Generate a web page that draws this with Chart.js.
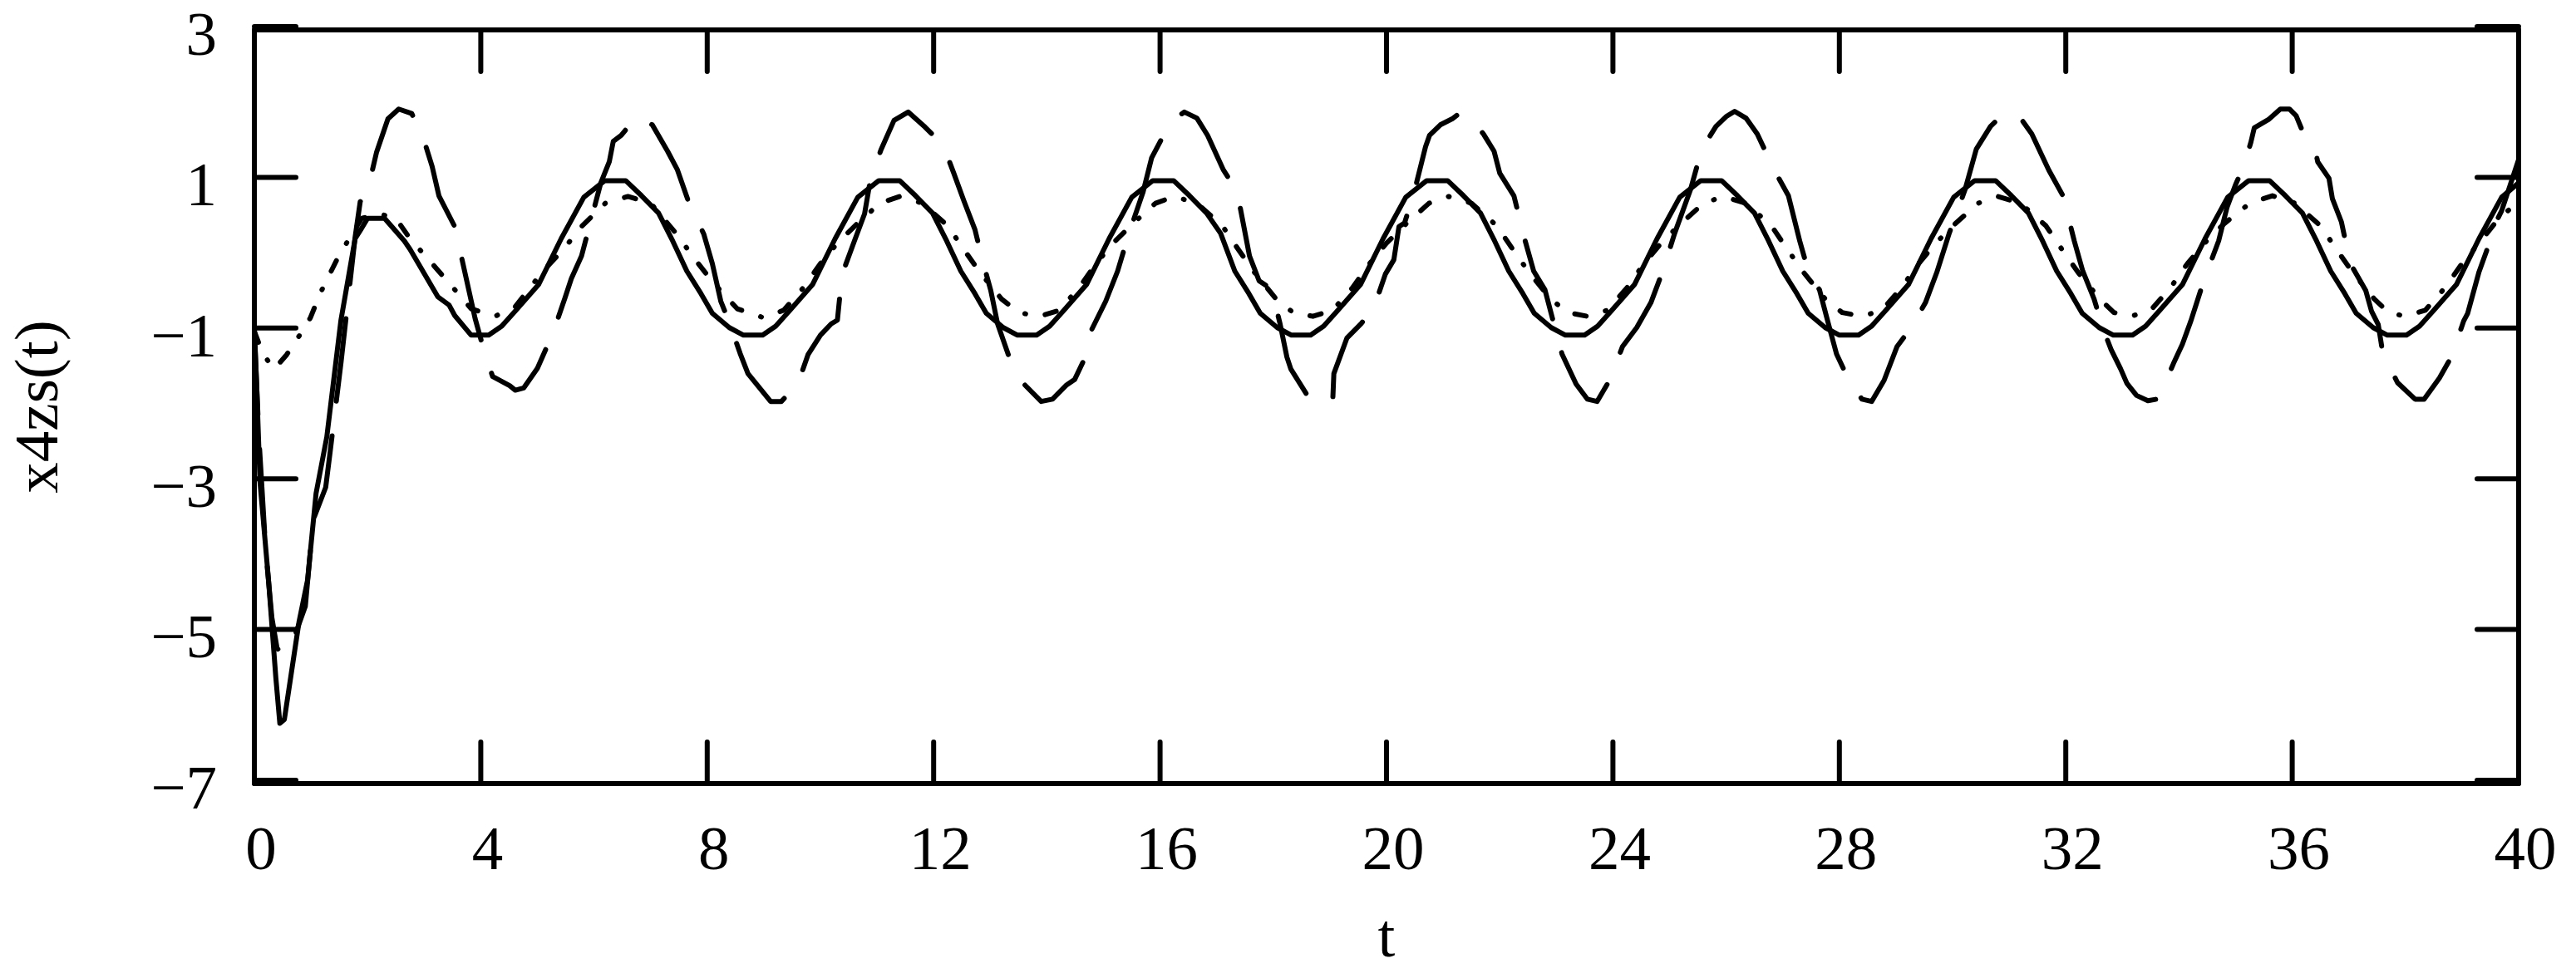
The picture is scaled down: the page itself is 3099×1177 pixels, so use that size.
<!DOCTYPE html>
<html>
<head>
<meta charset="utf-8">
<script src="https://cdn.jsdelivr.net/npm/chart.js@4.4.0/dist/chart.umd.min.js"></script>
<style>
  html, body { margin: 0; padding: 0; background: #fff; }
</style>
</head>
<body>
<canvas id="chart" width="3099" height="1177"></canvas>
<script>
// axis ticks
const xTicks = [0, 4, 8, 12, 16, 20, 24, 28, 32, 36, 40];
const yTicks = [3, 1, -1, -3, -5, -7];

// [t, x4zs(t)]
const solidLine = [
  [0,-0.95],[0.04,-1.7],[0.1,-3.0],[0.25,-4.3],[0.38,-5.6],[0.45,-6.2],[0.53,-6.15],[0.65,-5.55],
  [0.79,-4.85],[0.94,-4.3],[1.09,-3.15],[1.28,-2.4],[1.53,-0.85],[1.78,0.23],[1.88,0.35],[2.0,0.5],
  [2.3,0.5],[2.65,0.2],[2.75,0.09],[3.24,-0.54],[3.44,-0.65],[3.54,-0.79],[3.83,-1.05],[4.14,-1.05],
  [4.37,-0.93],[4.62,-0.72],[5.02,-0.38],[5.42,0.23],[5.82,0.78],[6.19,1.0],[6.56,1.0],[6.84,0.8],
  [7.14,0.57],[7.39,0.2],[7.64,-0.2],[7.89,-0.5],[8.09,-0.76],[8.39,-0.95],[8.64,-1.05],[8.98,-1.05],
  [9.21,-0.93],[9.46,-0.72],[9.86,-0.38],[10.26,0.23],[10.66,0.78],[11.03,1.0],[11.4,1.0],[11.68,0.8],
  [11.98,0.57],[12.23,0.2],[12.48,-0.2],[12.73,-0.5],[12.93,-0.76],[13.23,-0.95],[13.48,-1.05],[13.82,-1.05],
  [14.05,-0.93],[14.3,-0.72],[14.7,-0.38],[15.1,0.23],[15.5,0.78],[15.87,1.0],[16.24,1.0],[16.52,0.8],
  [16.82,0.57],[17.07,0.3],[17.32,-0.2],[17.57,-0.5],[17.77,-0.76],[18.07,-0.95],[18.32,-1.05],[18.66,-1.05],
  [18.89,-0.93],[19.14,-0.72],[19.54,-0.38],[19.94,0.23],[20.34,0.78],[20.71,1.0],[21.08,1.0],[21.36,0.8],
  [21.66,0.57],[21.91,0.2],[22.16,-0.2],[22.41,-0.5],[22.61,-0.76],[22.91,-0.95],[23.16,-1.05],[23.5,-1.05],
  [23.73,-0.93],[23.98,-0.72],[24.38,-0.38],[24.78,0.23],[25.18,0.78],[25.55,1.0],[25.92,1.0],[26.2,0.8],
  [26.5,0.57],[26.75,0.2],[27.0,-0.2],[27.25,-0.5],[27.45,-0.76],[27.75,-0.95],[28.0,-1.05],[28.34,-1.05],
  [28.57,-0.93],[28.82,-0.72],[29.22,-0.38],[29.62,0.23],[30.02,0.78],[30.39,1.0],[30.76,1.0],[31.04,0.8],
  [31.34,0.57],[31.59,0.2],[31.84,-0.2],[32.09,-0.5],[32.29,-0.76],[32.59,-0.95],[32.84,-1.05],[33.18,-1.05],
  [33.41,-0.93],[33.66,-0.72],[34.06,-0.38],[34.46,0.23],[34.86,0.78],[35.23,1.0],[35.6,1.0],[35.88,0.8],
  [36.18,0.57],[36.43,0.2],[36.68,-0.2],[36.93,-0.5],[37.13,-0.76],[37.43,-0.95],[37.68,-1.05],[38.02,-1.05],
  [38.25,-0.93],[38.5,-0.72],[38.9,-0.38],[39.3,0.23],[39.7,0.78],[40,0.97]
];

const dottedLine = [
  [0,-1.0],[0.15,-1.3],[0.35,-1.5],[0.57,-1.31],[0.8,-1.05],[0.99,-0.82],[1.16,-0.5],[1.45,-0.06],
  [1.72,0.29],[1.9,0.5],[2.2,0.56],[2.5,0.5],[2.75,0.23],[3.07,-0.04],[3.43,-0.35],[3.83,-0.7],
  [4.25,-0.8],[4.6,-0.68],[5.1,-0.2],[5.45,0.08],[5.79,0.4],[6.2,0.7],[6.6,0.79],
  [7.0,0.7],[7.45,0.3],[7.8,-0.06],[8.1,-0.35],[8.53,-0.7],[9.0,-0.82],
  [9.35,-0.72],[9.7,-0.42],[10.0,-0.1],[10.3,0.17],[10.65,0.43],[11.05,0.7],[11.4,0.79],
  [11.8,0.7],[12.25,0.4],[12.52,0.1],[12.82,-0.22],[13.2,-0.57],[13.5,-0.75],[13.87,-0.8],
  [14.22,-0.72],[14.57,-0.42],[14.87,-0.1],[15.17,0.17],[15.52,0.43],[15.92,0.7],[16.25,0.79],
  [16.65,0.7],[17.1,0.4],[17.37,0.1],[17.67,-0.22],[18.05,-0.57],[18.35,-0.75],[18.7,-0.8],
  [19.05,-0.72],[19.4,-0.42],[19.7,-0.1],[20.0,0.17],[20.35,0.43],[20.75,0.7],[21.1,0.79],
  [21.5,0.7],[21.95,0.4],[22.22,0.1],[22.52,-0.22],[22.9,-0.57],[23.2,-0.75],[23.55,-0.8],
  [23.9,-0.72],[24.25,-0.42],[24.55,-0.1],[24.85,0.17],[25.2,0.43],[25.6,0.7],[25.95,0.79],
  [26.35,0.7],[26.8,0.4],[27.07,0.1],[27.37,-0.22],[27.75,-0.57],[28.05,-0.75],[28.4,-0.8],
  [28.75,-0.72],[29.1,-0.42],[29.4,-0.1],[29.7,0.17],[30.05,0.43],[30.45,0.7],[30.8,0.79],
  [31.2,0.7],[31.65,0.4],[31.92,0.1],[32.22,-0.22],[32.6,-0.57],[32.85,-0.75],[33.15,-0.8],
  [33.5,-0.72],[33.85,-0.42],[34.15,-0.1],[34.45,0.17],[34.8,0.43],[35.25,0.7],[35.65,0.8],
  [36.05,0.7],[36.5,0.4],[36.77,0.1],[37.07,-0.22],[37.45,-0.57],[37.7,-0.75],[38.0,-0.8],
  [38.35,-0.72],[38.7,-0.42],[39.0,-0.1],[39.3,0.17],[39.65,0.5],[40,0.72]
];

const dashedLine = [
  [0,-1.0],[0.08,-2.4],[0.2,-3.9],[0.31,-4.8],[0.4,-5.2],[0.5,-5.3],[0.69,-5.09],[0.9,-4.65],
  [1.04,-3.5],[1.26,-3.07],[1.34,-2.59],[1.53,-1.42],[1.78,0.25],[1.87,0.72],[2.01,0.9],[2.16,1.38],
  [2.36,1.82],[2.55,1.95],[2.78,1.89],[2.97,1.6],[3.14,1.19],[3.26,0.8],[3.54,0.39],[3.9,-0.83],
  [4.07,-1.29],[4.21,-1.6],[4.51,-1.72],[4.61,-1.78],[4.76,-1.75],[5.0,-1.49],[5.27,-1.03],[5.49,-0.55],
  [5.6,-0.3],[5.78,0.0],[6.12,0.97],[6.27,1.25],[6.34,1.52],[6.48,1.6],[6.75,1.85],[7.03,1.74],
  [7.3,1.39],[7.47,1.15],[7.67,0.72],[7.94,0.29],[8.09,-0.1],[8.24,-0.6],[8.4,-0.9],[8.58,-1.29],
  [8.72,-1.56],[9.12,-1.93],[9.31,-1.93],[9.6,-1.7],[9.78,-1.31],[10.0,-1.05],[10.19,-0.9],[10.3,-0.85],
  [10.38,-0.25],[10.6,0.2],[10.78,0.56],[10.88,1.0],[11.07,1.41],[11.3,1.8],[11.55,1.91],[11.85,1.71],
  [12.05,1.56],[12.2,1.41],[12.35,1.11],[12.54,0.72],[12.73,0.35],[12.86,-0.05],[13.01,-0.46],[13.13,-0.9],
  [13.32,-1.31],[13.61,-1.71],[13.9,-1.93],[14.1,-1.9],[14.35,-1.71],[14.49,-1.64],[14.7,-1.31],[14.79,-0.98],
  [15.04,-0.6],[15.25,-0.2],[15.45,0.3],[15.7,0.85],[15.85,1.3],[16.06,1.6],[16.25,1.82],[16.43,1.91],
  [16.65,1.83],[16.84,1.6],[17.12,1.14],[17.36,0.86],[17.58,0.0],[17.75,-0.33],[17.97,-0.44],[18.12,-0.9],
  [18.24,-1.34],[18.31,-1.5],[18.66,-1.92],[19.05,-1.92],[19.07,-1.56],[19.3,-1.09],[19.55,-0.9],[19.78,-0.68],
  [19.98,-0.24],[20.13,-0.05],[20.22,0.39],[20.32,0.44],[20.5,0.88],[20.69,1.45],[20.76,1.6],[20.95,1.74],
  [21.16,1.82],[21.3,1.9],[21.5,1.83],[21.72,1.61],[21.9,1.39],[22.0,1.1],[22.25,0.8],[22.45,0.2],
  [22.6,-0.2],[22.8,-0.45],[22.95,-0.88],[23.1,-1.3],[23.35,-1.7],[23.55,-1.9],[23.72,-1.93],[23.94,-1.65],
  [24.17,-1.2],[24.42,-0.95],[24.67,-0.62],[24.87,-0.22],[25.09,0.3],[25.37,0.88],[25.57,1.42],[25.82,1.72],
  [26.0,1.85],[26.15,1.92],[26.35,1.83],[26.55,1.62],[26.85,1.14],[27.1,0.8],[27.3,0.2],[27.45,-0.2],
  [27.65,-0.45],[27.8,-0.88],[27.95,-1.3],[28.2,-1.7],[28.4,-1.9],[28.57,-1.93],[28.79,-1.65],[29.02,-1.2],
  [29.27,-0.95],[29.52,-0.62],[29.72,-0.22],[29.94,0.3],[30.22,0.88],[30.42,1.42],[30.67,1.72],[30.85,1.85],
  [31.0,1.91],[31.2,1.83],[31.4,1.62],[31.7,1.14],[31.95,0.8],[32.15,0.2],[32.3,-0.2],[32.5,-0.57],
  [32.65,-0.95],[32.8,-1.24],[32.97,-1.5],[33.08,-1.69],[33.25,-1.85],[33.45,-1.92],[33.6,-1.9],[33.73,-1.73],
  [33.9,-1.43],[34.06,-1.17],[34.21,-0.86],[34.45,-0.3],[34.7,0.2],[34.85,0.65],[35.0,0.95],[35.14,1.18],
  [35.27,1.51],[35.33,1.7],[35.58,1.81],[35.79,1.95],[35.95,1.95],[36.07,1.86],[36.29,1.46],[36.42,1.36],
  [36.45,1.25],[36.65,1.03],[36.71,0.76],[36.87,0.45],[37.02,-0.09],[37.3,-0.46],[37.4,-0.73],[37.52,-0.91],
  [37.6,-1.29],[37.86,-1.68],[38.17,-1.9],[38.33,-1.9],[38.6,-1.62],[38.81,-1.34],[39.03,-0.86],[39.1,-0.76],
  [39.3,-0.21],[39.53,0.27],[39.6,0.45],[39.7,0.6],[40,1.28]
];

const serif = 'Liberation Serif, Times New Roman, serif';
const toXY = arr => arr.map(p => ({x: p[0], y: p[1]}));

function lineSet(label, data, dash) {
  return {
    label: label, data: toXY(data), borderColor: '#000', borderWidth: 6,
    borderDash: dash, borderCapStyle: 'round', borderJoinStyle: 'round',
    pointRadius: 0, tension: 0, fill: false
  };
}

// frame + inward tick marks on all four sides
const frame = {
  id: 'frame',
  afterDatasetsDraw(chart) {
    const {ctx, chartArea: a, scales: {x, y}} = chart;
    ctx.save();
    ctx.strokeStyle = '#000';
    ctx.lineWidth = 6;
    ctx.lineCap = 'round';
    ctx.beginPath();
    xTicks.forEach(v => {
      const px = x.getPixelForValue(v);
      ctx.moveTo(px, a.bottom); ctx.lineTo(px, a.bottom - 50);
      ctx.moveTo(px, a.top); ctx.lineTo(px, a.top + 50);
    });
    yTicks.forEach(v => {
      const py = y.getPixelForValue(v) - 4;
      ctx.moveTo(a.left, py); ctx.lineTo(a.left + 50, py);
      ctx.moveTo(a.right, py); ctx.lineTo(a.right - 50, py);
    });
    ctx.stroke();
    ctx.lineJoin = 'round';
    ctx.strokeRect(a.left, a.top, a.right - a.left, a.bottom - a.top);
    ctx.restore();
  }
};

new Chart(document.getElementById('chart'), {
  type: 'line',
  data: {
    datasets: [
      lineSet('solid', solidLine, []),
      lineSet('dotted', dottedLine, [14, 24, 1, 24]),
      lineSet('dashed', dashedLine, [100, 42])
    ]
  },
  options: {
    responsive: false,
    animation: false,
    layout: {padding: {top: 36, right: 69, left: 0, bottom: 0}},
    plugins: {legend: {display: false}, tooltip: {enabled: false}},
    scales: {
      x: {
        type: 'linear', min: 0, max: 40,
        afterBuildTicks: s => { s.ticks = xTicks.map(v => ({value: v})); },
        grid: {display: false}, border: {display: false},
        ticks: {font: {family: serif, size: 75}, color: '#000', padding: 30, labelOffset: 8,
                maxRotation: 0, autoSkip: false},
        title: {display: true, text: 't', font: {family: serif, size: 75}, color: '#000',
                padding: {top: 0, bottom: 1}},
        afterFit: s => { s.height = 234; s.paddingLeft = 0; s.paddingRight = 0; }
      },
      y: {
        min: -7, max: 3,
        afterBuildTicks: s => { s.ticks = yTicks.map(v => ({value: v})); },
        grid: {display: false}, border: {display: false},
        ticks: {font: {family: serif, size: 75}, color: '#000', padding: 37, labelOffset: 10,
                callback: v => String(v).replace('-', '\u2212')},
        title: {display: true, text: 'x4zs(t)', font: {family: serif, size: 75}, color: '#000',
                padding: {top: 4, bottom: 0}},
        afterFit: s => { s.width = 306; s.paddingTop = 0; s.paddingBottom = 0; }
      }
    }
  },
  plugins: [frame]
});
</script>
</body>
</html>
